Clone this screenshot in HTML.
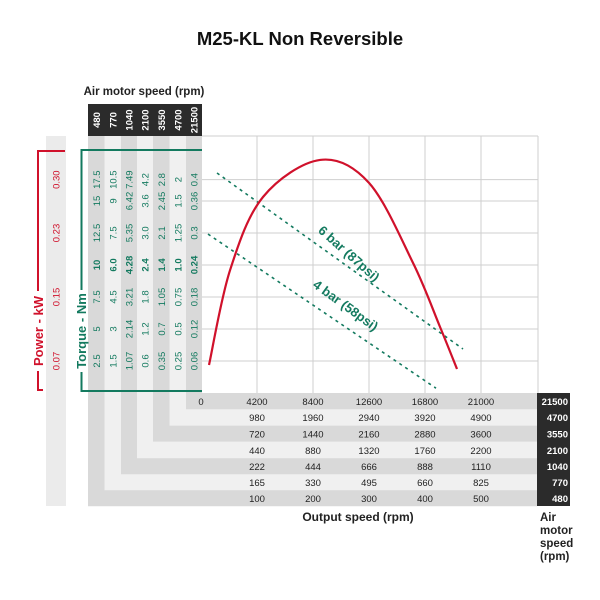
<!DOCTYPE html>
<html><head><meta charset="utf-8"><style>
html,body{margin:0;padding:0;background:#fff;}
svg{display:block;font-family:"Liberation Sans",Arial,sans-serif;}
</style></head><body>
<svg id="chart" width="600" height="600" viewBox="0 0 600 600"></svg>
<script>
// ---- data ----
const motorSpeeds = [480, 770, 1040, 2100, 3550, 4700, 21500];
const outputTicks21500 = [0, 4200, 8400, 12600, 16800, 21000];
const outputRows = {
  4700: [980, 1960, 2940, 3920, 4900],
  3550: [720, 1440, 2160, 2880, 3600],
  2100: [440, 880, 1320, 1760, 2200],
  1040: [222, 444, 666, 888, 1110],
  770: [165, 330, 495, 660, 825],
  480: [100, 200, 300, 400, 500]
};
const torqueTicks21500 = [0.06, 0.12, 0.18, 0.24, 0.3, 0.36, 0.4];
const torqueCols = {
  480: ["2.5","5","7.5","10","12.5","15","17.5"],
  770: ["1.5","3","4.5","6.0","7.5","9","10.5"],
  1040: ["1.07","2.14","3.21","4.28","5.35","6.42","7.49"],
  2100: ["0.6","1.2","1.8","2.4","3.0","3.6","4.2"],
  3550: ["0.35","0.7","1.05","1.4","2.1","2.45","2.8"],
  4700: ["0.25","0.5","0.75","1.0","1.25","1.5","2"],
  21500: ["0.06","0.12","0.18","0.24","0.3","0.36","0.4"]
};
const powerLabels = ["0.07","0.15","0.23","0.30"];
const powerLabelTorque = [0.06, 0.18, 0.3, 0.4];
const curveSpeed = [600, 2175, 4650, 8925, 12600, 15900, 17925, 19200];
const curveTorque = [0.0525, 0.23, 0.3675, 0.437, 0.394, 0.244, 0.124, 0.045];
const bar6Speed = [1200, 19650];
const bar6Torque = [0.4125, 0.0825];
const bar4Speed = [525, 17625];
const bar4Torque = [0.298, 0.009];

// ---- axes ----
const X0 = 201, XPER = 56/4200, Y0 = 393, YPER = 32/0.06;
const xs = v => X0 + v*XPER;
const ys = v => Y0 - v*YPER;
const NS = "http://www.w3.org/2000/svg";
const svg = document.getElementById('chart');
function mk(tag, attrs, parent){
  const e = document.createElementNS(NS, tag);
  for (const k in attrs) e.setAttribute(k, attrs[k]);
  (parent||svg).appendChild(e);
  return e;
}
const GREY = "#d9d9d9", LIGHT = "#f0f0f0", RED = "#d0112b", TEAL = "#137a5f";

// title
let t = mk('text',{x:300,y:45,'text-anchor':'middle','font-size':18.5,'font-weight':'bold',fill:'#111'});
t.textContent = "M25-KL Non Reversible";
 
t = mk('text',{x:144,y:95,'text-anchor':'middle','font-size':11.5,'font-weight':'bold',fill:'#222'});
t.textContent = "Air motor speed (rpm)";
 

// power strip
let r = mk('rect',{x:46,y:136,width:20,height:370,fill:"#ebebeb"});
 

// L-shaped columns/rows: columns left edges
const colX = [88, 104.5, 121, 137, 153, 169.5, 186, 202];
const rowY = {21500:393, 4700:409, 3550:425.5, 2100:442, 1040:458, 770:474, 480:490};
for (let i = 0; i < motorSpeeds.length; i++) {
  const m = motorSpeeds[i];
  const fill = (i % 2 === 0) ? GREY : LIGHT;
  const bottom = rowY[m] + 16.3;
  const g = mk('path',{d:`M${colX[i]},136 H${colX[i+1]} V${rowY[m]} H537 V${bottom} H${colX[i]} Z`, fill:fill});
   
}
// plot area
r = mk('rect',{x:202,y:136,width:336,height:257,fill:"#fff"});
 
// grid
for (let i = 1; i < outputTicks21500.length; i++) {
  const l = mk('line',{x1:xs(outputTicks21500[i]),x2:xs(outputTicks21500[i]),y1:136,y2:393,stroke:"#cfcfcf",'stroke-width':1});
   
}
mk('line',{x1:538,x2:538,y1:136,y2:393,stroke:"#cfcfcf"});
for (const v of torqueTicks21500) {
  const l = mk('line',{x1:202,x2:538,y1:ys(v),y2:ys(v),stroke:"#cfcfcf"});
   
}
mk('line',{x1:202,x2:538,y1:136,y2:136,stroke:"#cfcfcf"});

// header dark
r = mk('rect',{x:88,y:104,width:114,height:32,fill:"#2b2b2b"});
 
for (let i = 0; i < motorSpeeds.length; i++) {
  const cx = (colX[i]+colX[i+1])/2 + 3.5;
  const tt = mk('text',{transform:`translate(${cx},120) rotate(-90)`,'text-anchor':'middle','font-size':9.5,'font-weight':'bold',fill:'#fff'});
  tt.textContent = motorSpeeds[i];
   
  const vals = torqueCols[motorSpeeds[i]];
  for (let j = 0; j < torqueTicks21500.length; j++) {
    const tv = mk('text',{transform:`translate(${cx},${ys(torqueTicks21500[j])}) rotate(-90)`,'text-anchor':'middle','font-size':9.5,fill:TEAL,'font-weight':j===3?'bold':'normal'});
    tv.textContent = vals[j];
     
  }
}
// power labels
for (let j = 0; j < powerLabels.length; j++) {
  const tp = mk('text',{transform:`translate(59.5,${ys(powerLabelTorque[j])}) rotate(-90)`,'text-anchor':'middle','font-size':9.5,fill:RED});
  tp.textContent = powerLabels[j];
   
}
// brackets
let p = mk('path',{d:"M65,151 H38 V390 H43",fill:'none',stroke:RED,'stroke-width':2});
 
r = mk('rect',{x:31,y:291,width:14,height:80,fill:'#fff'});
t = mk('text',{transform:"translate(43,331) rotate(-90)",'text-anchor':'middle','font-size':13,'font-weight':'bold',fill:RED});
t.textContent = "Power - kW";
 
p = mk('path',{d:"M202,150 H81.5 V391 H202",fill:'none',stroke:TEAL,'stroke-width':2});
 
r = mk('rect',{x:74,y:290,width:14,height:82,fill:'#fff'});
t = mk('text',{transform:"translate(86,331) rotate(-90)",'text-anchor':'middle','font-size':13,'font-weight':'bold',fill:TEAL});
t.textContent = "Torque - Nm";
 

// dashed lines
p = mk('line',{x1:xs(bar6Speed[0]),y1:ys(bar6Torque[0]),x2:xs(bar6Speed[1]),y2:ys(bar6Torque[1]),stroke:TEAL,'stroke-width':1.6,'stroke-dasharray':'3,4'});
 
p = mk('line',{x1:xs(bar4Speed[0]),y1:ys(bar4Torque[0]),x2:xs(bar4Speed[1]),y2:ys(bar4Torque[1]),stroke:TEAL,'stroke-width':1.6,'stroke-dasharray':'3,4'});
 
t = mk('text',{transform:"translate(346,257) rotate(41.5)",'text-anchor':'middle','font-size':13,'font-weight':'bold',fill:TEAL});
t.textContent = "6 bar (87psi)";
 
t = mk('text',{transform:"translate(343,309) rotate(36)",'text-anchor':'middle','font-size':13,'font-weight':'bold',fill:TEAL});
t.textContent = "4 bar (58psi)";
 

// red curve (smooth Catmull-Rom)
const pts = curveSpeed.map((s,i)=>[xs(s), ys(curveTorque[i])]);
let d = `M${pts[0][0]},${pts[0][1]}`;
for (let i = 0; i < pts.length-1; i++) {
  const p0 = pts[Math.max(0,i-1)], p1 = pts[i], p2 = pts[i+1], p3 = pts[Math.min(pts.length-1,i+2)];
  const c1 = [p1[0]+(p2[0]-p0[0])/6, p1[1]+(p2[1]-p0[1])/6];
  const c2 = [p2[0]-(p3[0]-p1[0])/6, p2[1]-(p3[1]-p1[1])/6];
  d += ` C${c1[0]},${c1[1]} ${c2[0]},${c2[1]} ${p2[0]},${p2[1]}`;
}
p = mk('path',{d:d,fill:'none',stroke:RED,'stroke-width':2.2});
 

// bottom tables
for (const v of outputTicks21500) {
  const tx = mk('text',{x:v===0?201:xs(v),y:405,'text-anchor':'middle','font-size':9.5,fill:'#222'});
  tx.textContent = v;
   
}
for (const m in outputRows) {
  outputRows[m].forEach((v,i)=>{
    const tx = mk('text',{x:xs(outputTicks21500[i+1]),y:rowY[m]+12,'text-anchor':'middle','font-size':9.5,fill:'#222'});
    tx.textContent = v;
     
  });
}
r = mk('rect',{x:537,y:393,width:33,height:113,fill:"#2b2b2b"});
 
for (const m of motorSpeeds) {
  const tx = mk('text',{x:568,y:rowY[m]+12,'text-anchor':'end','font-size':9.5,'font-weight':'bold',fill:'#fff'});
  tx.textContent = m;
   
}
t = mk('text',{x:358,y:521,'text-anchor':'middle','font-size':12,'font-weight':'bold',fill:'#222'});
t.textContent = "Output speed (rpm)";
 
["Air","motor","speed","(rpm)"].forEach((w,i)=>{
  const tx = mk('text',{x:540,y:521+i*13,'font-size':11.5,'font-weight':'bold',fill:'#222'});
  tx.textContent = w;
   
});
</script>
</body></html>
